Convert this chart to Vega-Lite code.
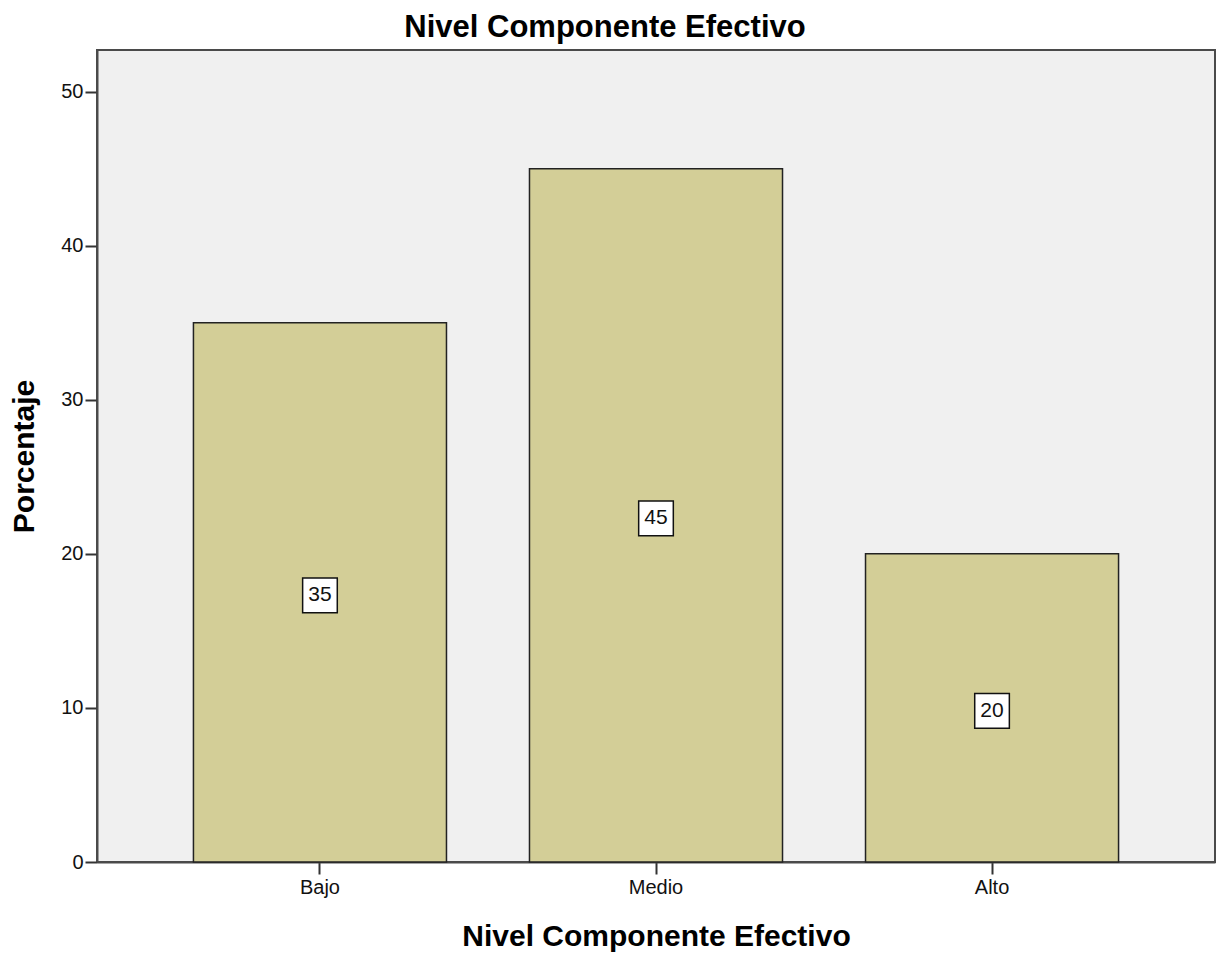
{
  "$schema": "https://vega.github.io/schema/vega-lite/v6.json",
  "autosize": "none",
  "width": 1118,
  "height": 812,
  "padding": {"left": 97, "top": 50, "right": 7, "bottom": 96},
  "background": "white",
  "config": {
    "font": "Liberation Sans",
    "view": {"fill": "#F0F0F0", "stroke": "#4a4a4a", "strokeWidth": 2},
    "axis": {"grid": false, "domainColor": "#4a4a4a", "domainWidth": 2, "tickColor": "#333", "tickWidth": 2, "tickSize": 12, "labelFont": "Liberation Sans", "labelFontSize": 20, "labelColor": "#111", "titleFont": "Liberation Sans", "titleFontWeight": "bold", "titleFontSize": 30, "titleColor": "#000"}
  },
  "title": {"text": "Nivel Componente Efectivo", "font": "Liberation Sans", "fontSize": 31, "fontWeight": "bold", "color": "#000", "anchor": "middle", "dx": -51, "offset": 6},
  "data": {"values": [
    {"nivel": "Bajo", "Porcentaje": 35},
    {"nivel": "Medio", "Porcentaje": 45},
    {"nivel": "Alto", "Porcentaje": 20}
  ]},
  "transform": [{"calculate": "datum.Porcentaje / 2", "as": "mid"}],
  "encoding": {
    "x": {"field": "nivel", "type": "nominal", "sort": ["Bajo", "Medio", "Alto"],
      "scale": {"paddingInner": 0.247, "paddingOuter": 0.287},
      "axis": {"title": "Nivel Componente Efectivo", "labelAngle": 0, "labelPadding": 3, "titlePadding": 24}}
  },
  "layer": [
    {
      "mark": {"type": "bar", "fill": "#D3CE97", "stroke": "#222", "strokeWidth": 1.5},
      "encoding": {
        "y": {"field": "Porcentaje", "type": "quantitative", "scale": {"domain": [0, 52.7], "nice": false},
          "axis": {"title": "Porcentaje", "values": [0, 10, 20, 30, 40, 50], "labelPadding": 2, "titlePadding": 21}}
      }
    },
    {
      "mark": {"type": "point", "shape": "square", "size": 1200, "filled": true, "fill": "white", "stroke": "#111", "strokeWidth": 1.5, "opacity": 1, "yOffset": 3},
      "encoding": {"y": {"field": "mid", "type": "quantitative"}}
    },
    {
      "mark": {"type": "text", "fontSize": 21, "color": "#111", "font": "Liberation Sans", "yOffset": 3},
      "encoding": {"y": {"field": "mid", "type": "quantitative"}, "text": {"field": "Porcentaje", "type": "quantitative"}}
    }
  ]
}
